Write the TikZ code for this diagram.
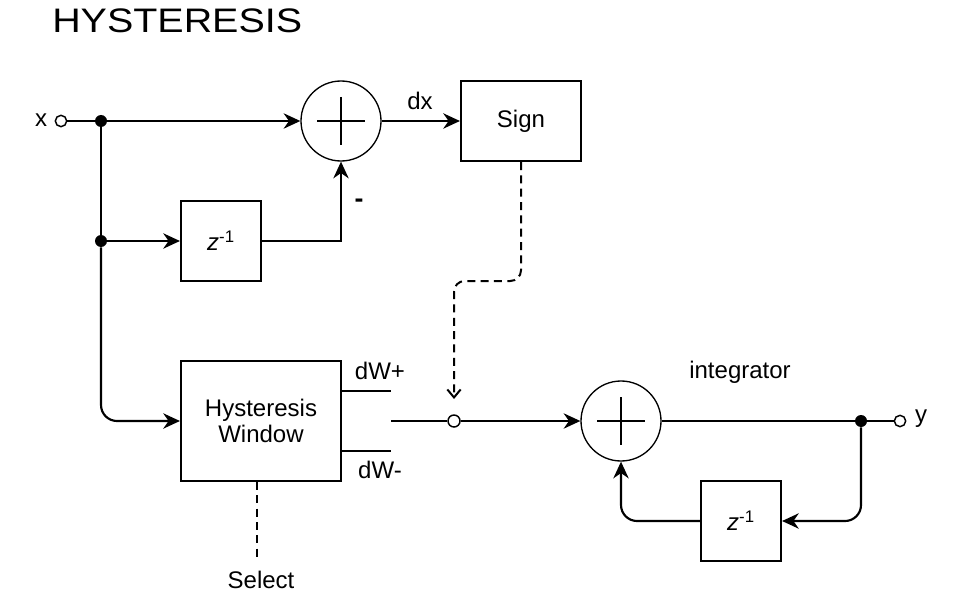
\documentclass[tikz,border=0pt]{standalone}
\usepackage{fontspec}
\setmainfont{Liberation Sans}
\usetikzlibrary{arrows.meta,calc}
\begin{document}
\begin{tikzpicture}[x=0.75pt,y=-0.75pt,
  txt/.style={font=\fontsize{18}{20}\selectfont, inner sep=0pt},
  blk/.style={draw, line width=1.6pt, inner sep=0pt, font=\fontsize{18}{20}\selectfont, align=center},
  sumc/.style={circle, draw, line width=1pt, minimum size=60pt, inner sep=0pt},
  dot/.style={circle, fill, inner sep=0pt, minimum size=9pt},
  port/.style={circle, draw, fill=white, line width=1.1pt, inner sep=0pt, minimum size=8.5pt},
  wire/.style={line width=1.6pt},
  arr/.style={-{Stealth[length=12.5pt,width=11.5pt,inset=4pt]}},
  dsh/.style={line width=1.5pt, dash pattern=on 6pt off 4pt},
  plus/.style={line width=1.6pt}]
\useasboundingbox (0,0) rectangle (962,602);

% title
\node[anchor=base west, inner sep=0pt, font=\fontsize{25.5}{30}\selectfont] (title) at (52,33) {\scalebox{1.16}[1]{HYSTERESIS}};

% nodes
\node[port] (xin) at (61,121) {};
\node[txt] (xl) at (41,120) {x};
\node[dot] (j1) at (101,121) {};
\node[dot] (j2) at (101,241) {};
\node[sumc] (s1) at (341,121) {};
\draw[plus] ($(s1.center)+(-24,0)$) -- ($(s1.center)+(24,0)$);
\draw[plus] ($(s1.center)+(0,-24)$) -- ($(s1.center)+(0,24)$);
\node[blk, minimum width=90pt, minimum height=60pt] (sign) at (521,121) {Sign};
\node[txt] (dxl) at (420,101) {dx};
\node[blk, minimum width=60pt, minimum height=60pt] (z1) at (221,241) {\textit{z}\textsuperscript{-1}};
\node[txt, font=\fontsize{20}{20}\selectfont\bfseries] (minus) at (359,203) {-};
\node[blk, minimum width=120pt, minimum height=90pt] (hw) at (261,421) {Hysteresis\\Window};
\node[txt] (dwp) at (380,371) {dW+};
\node[txt] (dwm) at (380,470) {dW-};
\coordinate (wp) at (391,391);
\coordinate (wm) at (391,451);
\coordinate (wc) at (391,421);
\node[port, minimum size=9pt] (sw) at (454,421) {};
\coordinate (bend) at (454,281);
\coordinate (swtip) at (454,399);
\node[sumc] (s2) at (621,421) {};
\draw[plus] ($(s2.center)+(-24,0)$) -- ($(s2.center)+(24,0)$);
\draw[plus] ($(s2.center)+(0,-24)$) -- ($(s2.center)+(0,24)$);
\node[txt] (intl) at (740,372) {integrator};
\node[dot] (j3) at (861,421) {};
\node[port] (yout) at (900,421) {};
\node[txt] (yl) at (921,419) {y};
\node[blk, minimum width=60pt, minimum height=60pt] (z2) at (741,521) {\textit{z}\textsuperscript{-1}};
\coordinate (sel) at (257,560);
\node[txt] (sell) at (261,580) {Select};

% connectors
\draw[wire] (xin) -- (j1);
\draw[wire,arr] (j1) -- (s1);
\draw[wire] (j1) -- (j2);
\draw[wire,arr] (j2) -- (z1);
\draw[wire,arr] (z1.east) -| (s1.south);
\draw[wire,arr] (s1) -- (sign);
\draw[wire,arr,rounded corners=12pt] (j2) |- (hw.west);
\draw[dsh,-{Straight Barb[length=6pt,width=10pt]},rounded corners=8pt] (sign.south) |- (bend) -- (swtip);
\draw[dsh] (hw.south -| sel) -- (sel);
\draw[wire] (hw.east |- wp) -- (wp);
\draw[wire] (hw.east |- wm) -- (wm);
\draw[wire] (wc) -- (sw);
\draw[wire,arr] (sw) -- (s2);
\draw[line width=1.1pt] (s2) -- (j3);
\draw[wire] (j3) -- (yout);
\draw[wire,arr,rounded corners=12pt] (j3) |- (z2.east);
\draw[wire,arr,rounded corners=12pt] (z2.west) -| (s2.south);
\end{tikzpicture}
\end{document}
